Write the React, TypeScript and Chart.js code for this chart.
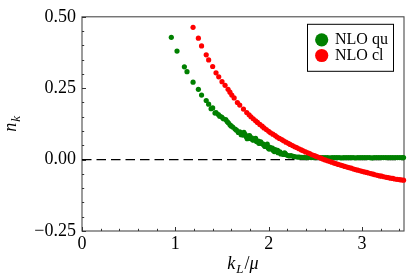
import React, { useEffect, useRef } from "react";
import { Chart, registerables } from "chart.js";

Chart.register(...registerables);

// ---- data ----
const seriesLabels = ["NLO qu", "NLO cl"];

const quK = [
  0.957, 1.018, 1.097, 1.125, 1.19, 1.247, 1.281, 1.331, 1.357, 1.383, 1.4, 1.425, 1.436, 1.461, 1.475,
  1.497, 1.515, 1.54, 1.555, 1.568, 1.585, 1.597, 1.615, 1.64, 1.655, 1.675, 1.69, 1.711, 1.725, 1.747,
  1.76, 1.78, 1.8, 1.818, 1.835, 1.85, 1.87, 1.89, 1.905, 1.925, 1.943, 1.96, 1.979, 1.995, 2.015,
  2.033, 2.05, 2.07, 2.087, 2.1, 2.12, 2.14, 2.16, 2.18, 2.2, 2.22, 2.24, 2.265, 2.285, 2.31, 2.33,
  1.705, 1.735, 1.77, 1.795, 1.825, 1.86, 1.895, 1.915, 1.95, 1.985, 2.005, 2.04, 2.06, 2.095, 2.13, 2.17,
  2.355, 2.38, 2.405, 2.43, 2.455, 2.48, 2.505, 2.53, 2.555, 2.58, 2.605, 2.63, 2.655, 2.68, 2.705,
  2.73, 2.755, 2.78, 2.805, 2.83, 2.855, 2.88, 2.905, 2.93, 2.955, 2.98, 3.005, 3.03, 3.055, 3.08,
  3.105, 3.13, 3.155, 3.18, 3.205, 3.23, 3.255, 3.28, 3.305, 3.33, 3.355, 3.38, 3.405, 3.43, 3.445,
];
const quN = [
  0.428, 0.38, 0.325, 0.308, 0.271, 0.246, 0.226, 0.207, 0.194, 0.178, 0.181, 0.163, 0.165, 0.158, 0.152,
  0.149, 0.143, 0.14, 0.133, 0.129, 0.122, 0.118, 0.114, 0.107, 0.103, 0.095, 0.097, 0.093, 0.086, 0.088,
  0.08, 0.082, 0.074, 0.076, 0.068, 0.072, 0.063, 0.065, 0.058, 0.056, 0.054, 0.046, 0.048, 0.041, 0.043,
  0.037, 0.032, 0.035, 0.029, 0.024, 0.027, 0.021, 0.018, 0.02, 0.015, 0.013, 0.014, 0.011, 0.01, 0.009, 0.009,
  0.087, 0.095, 0.073, 0.084, 0.07, 0.074, 0.057, 0.062, 0.05, 0.054, 0.037, 0.04, 0.028, 0.032, 0.02, 0.024,
  0.008, 0.008, 0.007, 0.008, 0.007, 0.007, 0.007, 0.008, 0.007, 0.007, 0.007, 0.007, 0.006, 0.007, 0.007,
  0.007, 0.007, 0.006, 0.007, 0.007, 0.007, 0.007, 0.007, 0.006, 0.007, 0.007, 0.007, 0.007, 0.007, 0.007,
  0.006, 0.007, 0.007, 0.007, 0.007, 0.007, 0.007, 0.007, 0.007, 0.007, 0.007, 0.007, 0.007, 0.007, 0.007,
];

const clK = [
  1.19, 1.247, 1.281, 1.331, 1.357, 1.4, 1.436, 1.465, 1.5, 1.533, 1.565, 1.585, 1.605, 1.63, 1.665,
  1.69, 1.73, 1.765, 1.79, 1.81, 1.835, 1.86, 1.88, 1.905, 1.93, 1.95, 1.975, 2.0, 2.02, 2.045,
  2.07, 2.09, 2.115, 2.14, 2.16, 2.185, 2.21, 2.23, 2.255, 2.28, 2.3, 2.325, 2.35, 2.37, 2.395,
  2.42, 2.44, 2.465, 2.49, 2.51, 2.535, 2.56, 2.58, 2.605, 2.63, 2.65, 2.675, 2.7, 2.72, 2.745,
  2.77, 2.79, 2.815, 2.84, 2.86, 2.885, 2.91, 2.93, 2.955, 2.98, 3.0, 3.025, 3.05, 3.07, 3.095,
  3.12, 3.14, 3.165, 3.19, 3.21, 3.235, 3.26, 3.28, 3.305, 3.33, 3.35, 3.375, 3.4, 3.42, 3.445,
];
const clN = [
  0.463, 0.425, 0.398, 0.367, 0.349, 0.326, 0.304, 0.29, 0.273, 0.26, 0.246, 0.236, 0.226, 0.216, 0.2,
  0.191, 0.177, 0.165, 0.157, 0.15, 0.143, 0.136, 0.13, 0.123, 0.117, 0.111, 0.105, 0.099, 0.094, 0.089,
  0.084, 0.079, 0.074, 0.07, 0.066, 0.061, 0.057, 0.053, 0.049, 0.045, 0.042, 0.038, 0.034, 0.031, 0.027,
  0.024, 0.021, 0.017, 0.014, 0.011, 0.008, 0.005, 0.002, -0.001, -0.004, -0.006, -0.009, -0.012, -0.014, -0.017,
  -0.019, -0.021, -0.024, -0.026, -0.028, -0.03, -0.033, -0.035, -0.037, -0.039, -0.041, -0.043, -0.045, -0.047, -0.049,
  -0.051, -0.053, -0.055, -0.057, -0.058, -0.06, -0.062, -0.063, -0.065, -0.066, -0.068, -0.069, -0.07, -0.071, -0.072,
];

const zeroLineK = [0, 3.45];
const zeroLineN = [0, 0];

const xTicks = [0, 1, 2, 3];
const yTicks = [-0.25, 0, 0.25, 0.5];
const X_MIN = 0;
const X_MAX = 3.45;
const Y_MIN = -0.25;
const Y_MAX = 0.5;
const X_MINOR_STEP = 0.2;
const Y_MINOR_STEP = 0.05;

const SERIF = '"Liberation Serif", "DejaVu Serif", serif';
const GREEN = "#008000";
const RED = "#ff0000";

const fmtY = (v: number) => {
  const s = Math.abs(v).toFixed(2);
  return v < 0 ? "\u2212" + s : s;
};

const framePlugin = {
  id: "frameTicks",
  beforeDatasetsDraw(chart: any) {
    const { ctx, chartArea: a, scales } = chart;
    const xs = scales.x;
    const ys = scales.y;
    ctx.save();
    ctx.strokeStyle = "#4a4a4a";
    ctx.lineWidth = 1.1;
    ctx.strokeRect(a.left, a.top, a.right - a.left, a.bottom - a.top);
    ctx.lineWidth = 1;
    ctx.strokeStyle = "#333";
    const tickX = (v: number, len: number) => {
      const p = Math.round(xs.getPixelForValue(v)) + 0.5;
      ctx.beginPath();
      ctx.moveTo(p, a.bottom);
      ctx.lineTo(p, a.bottom - len);
      ctx.stroke();
    };
    const tickY = (v: number, len: number) => {
      const p = Math.round(ys.getPixelForValue(v)) + 0.5;
      ctx.beginPath();
      ctx.moveTo(a.left, p);
      ctx.lineTo(a.left + len, p);
      ctx.stroke();
    };
    const nx = Math.floor((X_MAX - X_MIN) / X_MINOR_STEP + 1e-9);
    for (let i = 0; i <= nx; i++) {
      const v = X_MIN + i * X_MINOR_STEP;
      const isMajor = xTicks.some((t) => Math.abs(t - v) < 1e-6);
      tickX(v, isMajor ? 4 : 2.2);
    }
    const ny = Math.round((Y_MAX - Y_MIN) / Y_MINOR_STEP);
    for (let i = 0; i <= ny; i++) {
      const v = Y_MIN + i * Y_MINOR_STEP;
      const isMajor = yTicks.some((t) => Math.abs(t - v) < 1e-6);
      tickY(v, isMajor ? 4 : 2.2);
    }
    ctx.restore();
  },
};

const overlayPlugin = {
  id: "overlay",
  afterDraw(chart: any) {
    const { ctx, chartArea: a } = chart;
    ctx.save();
    // legend
    const bw = 86;
    const bh = 47;
    const bx = a.right - 97;
    const by = a.top + 7;
    ctx.fillStyle = "#fff";
    ctx.fillRect(bx, by, bw, bh);
    ctx.strokeStyle = "#000";
    ctx.lineWidth = 1;
    ctx.strokeRect(bx + 0.5, by + 0.5, bw, bh);
    const items = chart.data.datasets.filter((d: any) => seriesLabels.includes(d.label));
    items.forEach((d: any, i: number) => {
      const cy = by + 16 + i * 15.7;
      ctx.fillStyle = d.pointBackgroundColor;
      ctx.beginPath();
      ctx.arc(bx + 14.7, cy, 6.6, 0, Math.PI * 2);
      ctx.fill();
      ctx.fillStyle = "#000";
      ctx.font = `16px ${SERIF}`;
      ctx.textBaseline = "middle";
      ctx.textAlign = "left";
      ctx.fillText(d.label, bx + 28, cy);
    });

    // axis titles
    ctx.fillStyle = "#000";
    ctx.textBaseline = "alphabetic";
    ctx.textAlign = "left";
    // y title: n_k
    ctx.save();
    ctx.translate(16, (a.top + a.bottom) / 2);
    ctx.rotate(-Math.PI / 2);
    ctx.font = `italic 18px ${SERIF}`;
    const wn = ctx.measureText("n").width;
    ctx.font = `italic 13px ${SERIF}`;
    const wk = ctx.measureText("k").width;
    const wy = wn + 1 + wk;
    ctx.font = `italic 18px ${SERIF}`;
    ctx.fillText("n", -wy / 2, 0);
    ctx.font = `italic 13px ${SERIF}`;
    ctx.fillText("k", -wy / 2 + wn + 1, 4);
    ctx.restore();

    // x title: k_L / mu
    const baseY = 269;
    ctx.font = `italic 18px ${SERIF}`;
    const w1 = ctx.measureText("k").width;
    ctx.font = `italic 13px ${SERIF}`;
    const w2 = ctx.measureText("L").width;
    ctx.font = `18px ${SERIF}`;
    const w3 = ctx.measureText("/").width;
    ctx.font = `italic 18px ${SERIF}`;
    const w4 = ctx.measureText("\u03bc").width;
    const total = w1 + 1 + w2 + 1 + w3 + w4;
    let x = (a.left + a.right) / 2 - total / 2;
    ctx.font = `italic 18px ${SERIF}`;
    ctx.fillText("k", x, baseY);
    x += w1 + 1;
    ctx.font = `italic 13px ${SERIF}`;
    ctx.fillText("L", x, baseY + 4);
    x += w2 + 1;
    ctx.font = `18px ${SERIF}`;
    ctx.fillText("/", x, baseY);
    x += w3;
    ctx.font = `italic 18px ${SERIF}`;
    ctx.fillText("\u03bc", x, baseY);
    ctx.restore();
  },
};

export default function App() {
  const ref = useRef<HTMLCanvasElement | null>(null);

  useEffect(() => {
    if (!ref.current) return;
    const chart = new Chart(ref.current, {
      type: "scatter",
      data: {
        datasets: [
          {
            label: seriesLabels[0],
            data: quK.map((k, i) => ({ x: k, y: quN[i] })),
            pointRadius: 2.6,
            pointBackgroundColor: GREEN,
            pointBorderColor: GREEN,
            pointBorderWidth: 0,
            showLine: false,
            order: 1,
            clip: 4,
          },
          {
            label: seriesLabels[1],
            data: clK.map((k, i) => ({ x: k, y: clN[i] })),
            pointRadius: 2.6,
            pointBackgroundColor: RED,
            pointBorderColor: RED,
            pointBorderWidth: 0,
            showLine: false,
            order: 0,
            clip: 4,
          },
          {
            label: "zero",
            data: zeroLineK.map((k, i) => ({ x: k, y: zeroLineN[i] })),
            showLine: true,
            borderColor: "#000",
            borderWidth: 1.4,
            borderDash: [9.5, 5],
            pointRadius: 0,
            order: 2,
          },
        ],
      },
      options: {
        animation: false,
        responsive: false,
        maintainAspectRatio: false,
        layout: { padding: { top: 8, right: 11, left: 0, bottom: 0 } },
        plugins: { legend: { display: false }, tooltip: { enabled: false } },
        scales: {
          x: {
            type: "linear",
            min: X_MIN,
            max: X_MAX,
            afterBuildTicks: (s: any) => {
              s.ticks = xTicks.map((v) => ({ value: v }));
            },
            afterFit: (s: any) => {
              s.height = 46;
            },
            grid: { display: false, drawTicks: false },
            border: { display: false },
            ticks: {
              padding: 2,
              color: "#000",
              font: { family: SERIF, size: 18 },
              maxRotation: 0,
              callback: (v: any) => String(v),
            },
          },
          y: {
            type: "linear",
            min: Y_MIN,
            max: Y_MAX,
            afterBuildTicks: (s: any) => {
              s.ticks = yTicks.map((v) => ({ value: v }));
            },
            afterFit: (s: any) => {
              s.width = 82;
            },
            grid: { display: false, drawTicks: false },
            border: { display: false },
            ticks: {
              padding: 6,
              color: "#000",
              font: { family: SERIF, size: 18 },
              callback: (v: any) => fmtY(Number(v)),
            },
          },
        },
      },
      plugins: [framePlugin, overlayPlugin],
    });
    return () => chart.destroy();
  }, []);

  return (
    <div style={{ position: "absolute", left: 0, top: 0, width: 415, height: 277, background: "#fff" }}>
      <canvas ref={ref} width={415} height={277} style={{ display: "block" }} />
    </div>
  );
}
